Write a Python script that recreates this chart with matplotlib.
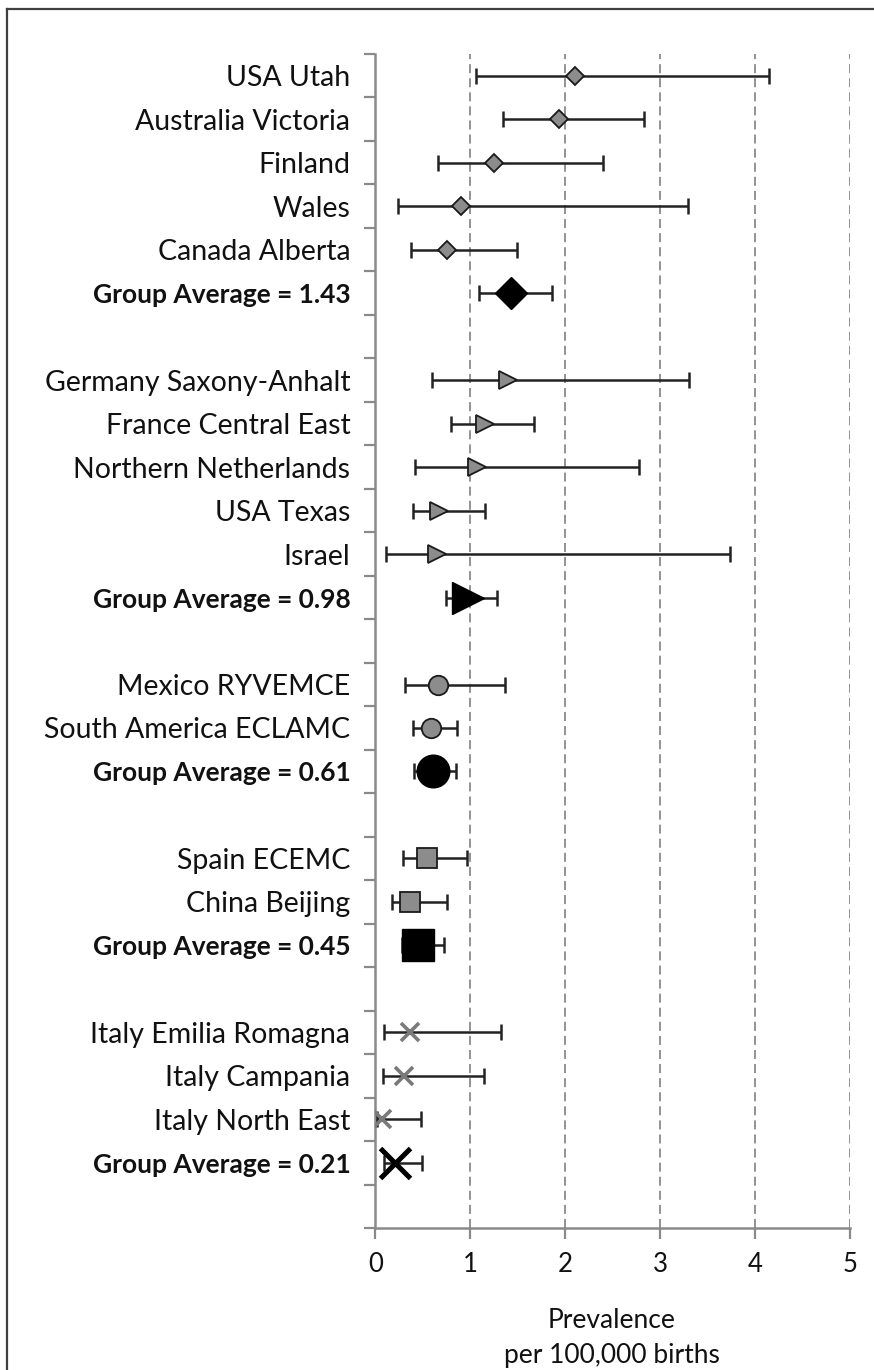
import matplotlib
matplotlib.use('Agg')
import matplotlib.pyplot as plt
from matplotlib.lines import Line2D

plt.rcParams['font.family'] = ['Lato', 'DejaVu Sans']

# Registries, grouped by marker shape
group_sites = [
    ['USA Utah', 'Australia Victoria', 'Finland', 'Wales', 'Canada Alberta'],
    ['Germany Saxony-Anhalt', 'France Central East', 'Northern Netherlands', 'USA Texas', 'Israel'],
    ['Mexico RYVEMCE', 'South America ECLAMC'],
    ['Spain ECEMC', 'China Beijing'],
    ['Italy Emilia Romagna', 'Italy Campania', 'Italy North East'],
]
site_prev = [
    [2.10, 1.93, 1.25, 0.90, 0.75],
    [1.40, 1.15, 1.07, 0.67, 0.65],
    [0.66, 0.58],
    [0.54, 0.36],
    [0.36, 0.30, 0.07],
]
site_low = [
    [1.06, 1.34, 0.66, 0.24, 0.37],
    [0.60, 0.80, 0.42, 0.40, 0.11],
    [0.31, 0.40],
    [0.29, 0.17],
    [0.09, 0.08, 0.02],
]
site_high = [
    [4.15, 2.83, 2.40, 3.29, 1.49],
    [3.30, 1.67, 2.78, 1.15, 3.74],
    [1.36, 0.86],
    [0.96, 0.75],
    [1.32, 1.14, 0.48],
]
group_avg = [1.43, 0.98, 0.61, 0.45, 0.21]
group_low = [1.09, 0.74, 0.41, 0.28, 0.09]
group_high = [1.86, 1.28, 0.85, 0.72, 0.49]
group_markers = ['D', '>', 'o', 's', 'x']
x_ticks = [0, 1, 2, 3, 4, 5]

# marker size (points) for single sites / group averages
small_ms = {'D': 9.5, '>': 13.5, 'o': 14.0, 's': 14.0, 'x': 13.0}
big_ms = {'D': 16.0, '>': 23.5, 'o': 23.5, 's': 22.5, 'x': 21.0}

fig = plt.figure(figsize=(8.74, 13.70), dpi=100)
ax = fig.add_axes([0.4296, 0.1036, 0.5430, 0.8570])

err_kw = dict(fmt='none', ecolor='#222222', elinewidth=1.8, capsize=5.5,
              capthick=1.8, zorder=3)

labels = []
bold_rows = []
row = 0
for g, sites in enumerate(group_sites):
    m = group_markers[g]
    for i, name in enumerate(sites):
        x, lo, hi = site_prev[g][i], site_low[g][i], site_high[g][i]
        ax.errorbar([x], [row], xerr=[[x - lo], [hi - x]], **err_kw)
        if m == 'x':
            ax.plot(x, row, marker='x', ms=small_ms[m], mew=2.6,
                    color='#7a7a7a', zorder=4)
        else:
            ax.plot(x, row, marker=m, ms=small_ms[m], mfc='#8c8c8c',
                    mec='#1a1a1a', mew=1.3, zorder=4)
        labels.append(name)
        row += 1
    x, lo, hi = group_avg[g], group_low[g], group_high[g]
    ax.errorbar([x], [row], xerr=[[x - lo], [hi - x]], **err_kw)
    if m == 'x':
        ax.plot(x, row, marker='x', ms=big_ms[m], mew=3.6, color='black',
                zorder=4)
    else:
        ax.plot(x, row, marker=m, ms=big_ms[m], mfc='black', mec='black',
                mew=1.0, zorder=4)
    labels.append('Group Average = %.2f' % group_avg[g])
    bold_rows.append(row)
    row += 1
    labels.append('')
    row += 1

n_rows = len(labels)
ax.set_ylim(n_rows - 0.5, -0.5)
ax.set_xlim(0, 5)

ax.set_yticks(range(n_rows))
ax.set_yticklabels(labels, fontsize=20.5, color='#111111')
for r in bold_rows:
    lab = ax.get_yticklabels()[r]
    lab.set_fontweight('bold')
    lab.set_fontsize(19)
ax.tick_params(axis='y', which='major', length=0, pad=18)
ax.set_yticks([r - 0.5 for r in range(n_rows + 1)], minor=True)
ax.tick_params(axis='y', which='minor', length=8, width=1.6, color='#8a8a8a')

ax.set_xticks(x_ticks)
ax.set_xticklabels([str(t) for t in x_ticks], fontsize=18.5)
ax.tick_params(axis='x', length=8, width=1.6, color='#8a8a8a', pad=9,
               labelcolor='#111111')

ax.grid(axis='x', linestyle=(0, (5, 2.8)), color='#8a8a8a', linewidth=1.3)
ax.set_axisbelow(True)

for s in ['top', 'right']:
    ax.spines[s].set_visible(False)
for s in ['left', 'bottom']:
    ax.spines[s].set_color('#8a8a8a')
    ax.spines[s].set_linewidth(1.8)

fig.text(0.700, 0.0360, 'Prevalence', ha='center', va='center',
         fontsize=19, color='#111111')
fig.text(0.700, 0.0105, 'per 100,000 births', ha='center', va='center',
         fontsize=19, color='#111111')

# frame lines along the top and left edge
fig.add_artist(Line2D([0.0075, 0.0075], [0, 0.9935], color='#404040',
                      linewidth=1.6, transform=fig.transFigure))
fig.add_artist(Line2D([0.0075, 1.0], [0.9935, 0.9935], color='#404040',
                      linewidth=1.6, transform=fig.transFigure))

fig.savefig('out.png', dpi=100)
